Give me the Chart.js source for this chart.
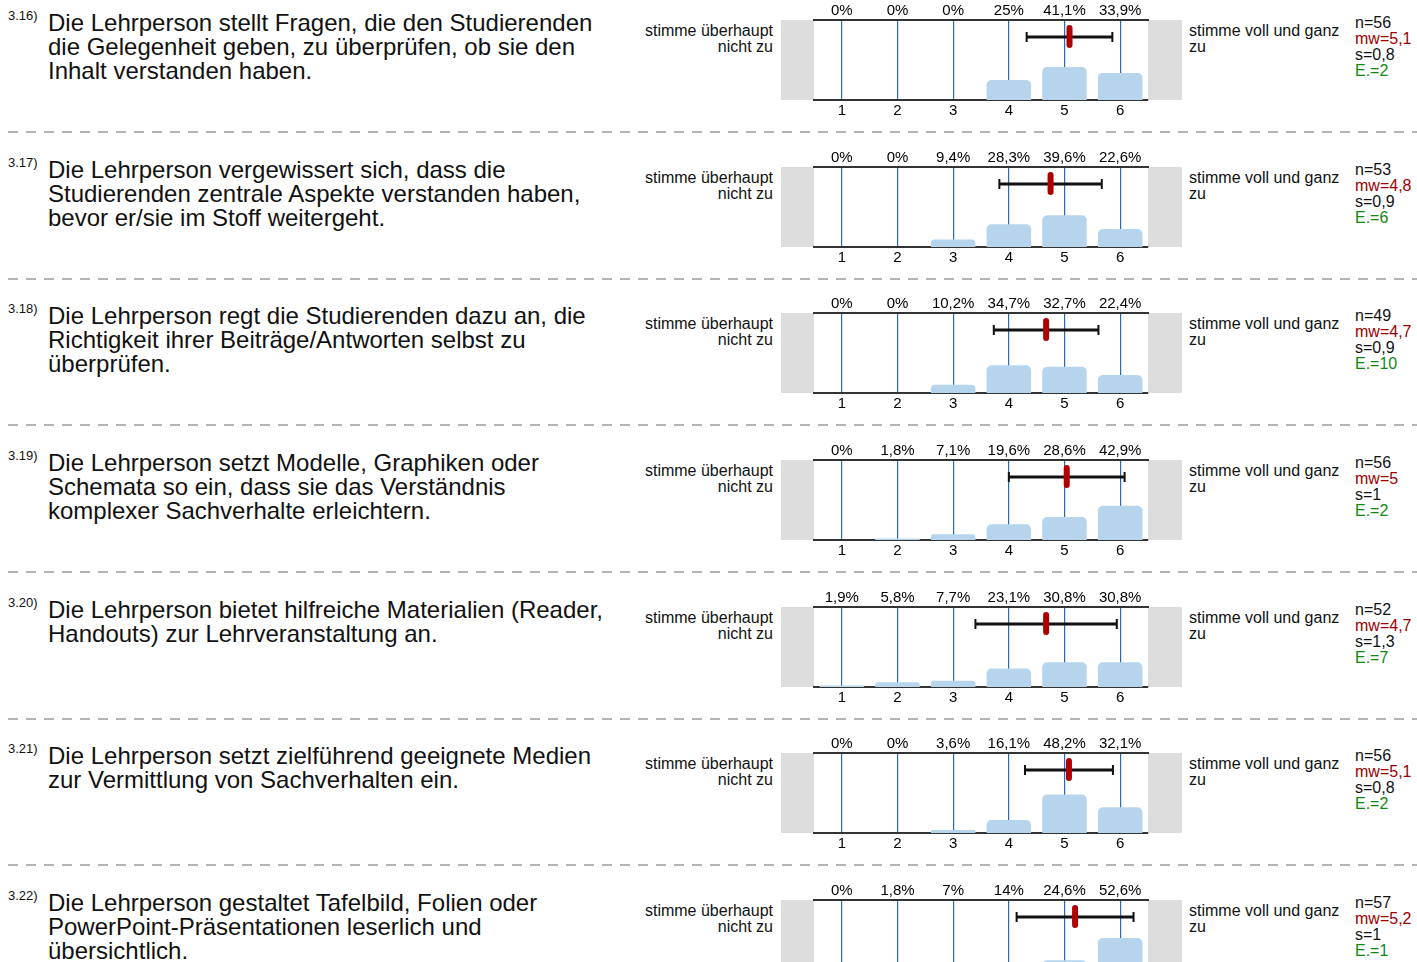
<!DOCTYPE html>
<html lang="de">
<head>
<meta charset="UTF-8">
<title>Lehrevaluation 3.16 - 3.22</title>
<script src="https://cdn.jsdelivr.net/npm/chart.js"></script>
<style>
    body {
        margin: 0;
        background: #fff;
        font-family: "Liberation Sans", Arial, sans-serif;
        color: #111;
        width: 1417px;
        height: 962px;
        overflow: hidden;
        position: relative;
    }
    .row { position: absolute; left: 0; width: 1417px; height: 147px; }
    .num { position: absolute; left: 8px; top: 8px; font-size: 13px; }
    .q { position: absolute; left: 48px; top: 11px; font-size: 24px; line-height: 24px; white-space: nowrap; }
    .lo { position: absolute; left: 573px; width: 200px; top: 23px; font-size: 16px; line-height: 16px; text-align: right; white-space: nowrap; }
    .hi { position: absolute; left: 1189px; top: 23px; font-size: 16px; line-height: 16px; white-space: nowrap; }
    .stats { position: absolute; left: 1355px; top: 15px; font-size: 16px; line-height: 16px; white-space: nowrap; }
    .mw { color: #9b0000; }
    .e { color: #118811; }
    .sep {
        position: absolute; left: 8px; width: 1409px; top: 131px; height: 2px;
        background: repeating-linear-gradient(to right, #b4b4b4 0 10px, transparent 10px 18px);
    }
    .row canvas { position: absolute; left: 781px; top: 0; }
</style>
</head>
<body>
<div id="page"></div>

<script>
// categories of the 6-point scale
const scaleLabels = ['1', '2', '3', '4', '5', '6'];

const itemNumbers = ['3.16)', '3.17)', '3.18)', '3.19)', '3.20)', '3.21)', '3.22)'];

const questions = [
    ['Die Lehrperson stellt Fragen, die den Studierenden', 'die Gelegenheit geben, zu überprüfen, ob sie den', 'Inhalt verstanden haben.'],
    ['Die Lehrperson vergewissert sich, dass die', 'Studierenden zentrale Aspekte verstanden haben,', 'bevor er/sie im Stoff weitergeht.'],
    ['Die Lehrperson regt die Studierenden dazu an, die', 'Richtigkeit ihrer Beiträge/Antworten selbst zu', 'überprüfen.'],
    ['Die Lehrperson setzt Modelle, Graphiken oder', 'Schemata so ein, dass sie das Verständnis', 'komplexer Sachverhalte erleichtern.'],
    ['Die Lehrperson bietet hilfreiche Materialien (Reader,', 'Handouts) zur Lehrveranstaltung an.'],
    ['Die Lehrperson setzt zielführend geeignete Medien', 'zur Vermittlung von Sachverhalten ein.'],
    ['Die Lehrperson gestaltet Tafelbild, Folien oder', 'PowerPoint-Präsentationen leserlich und', 'übersichtlich.']
];

// percent of answers per scale point
const pct316 = [0, 0, 0, 25, 41.1, 33.9];
const pct317 = [0, 0, 9.4, 28.3, 39.6, 22.6];
const pct318 = [0, 0, 10.2, 34.7, 32.7, 22.4];
const pct319 = [0, 1.8, 7.1, 19.6, 28.6, 42.9];
const pct320 = [1.9, 5.8, 7.7, 23.1, 30.8, 30.8];
const pct321 = [0, 0, 3.6, 16.1, 48.2, 32.1];
const pct322 = [0, 1.8, 7, 14, 24.6, 52.6];
const percents = [pct316, pct317, pct318, pct319, pct320, pct321, pct322];

// mean marker and +/- s whisker
const means = [5.09, 4.75, 4.67, 5.04, 4.67, 5.08, 5.19];
const sds = [0.77, 0.92, 0.94, 1.04, 1.27, 0.79, 1.05];

// printed statistics
const nValues = [56, 53, 49, 56, 52, 56, 57];
const mwText = ['5,1', '4,8', '4,7', '5', '4,7', '5,1', '5,2'];
const sText = ['0,8', '0,9', '0,9', '1', '1,3', '0,8', '1'];
const eValues = [2, 6, 10, 2, 7, 2, 1];

const leftPole = 'stimme überhaupt<br>nicht zu';
const rightPole = 'stimme voll und ganz<br>zu';

function fmtPct(v) {
    return String(v).replace('.', ',') + '%';
}

// gray end boxes, mean marker and deviation whisker
const profilePlugin = {
    id: 'profile',
    beforeDraw(chart) {
        const { ctx, chartArea: a } = chart;
        ctx.save();
        ctx.fillStyle = '#dddddd';
        ctx.fillRect(a.left - 33, a.top, 33, a.bottom - a.top);
        ctx.fillRect(a.right, a.top, 34, a.bottom - a.top);
        ctx.restore();
    },
    afterDraw(chart, args, opts) {
        const { ctx, chartArea: a } = chart;
        const xs = chart.scales.x;
        const y = a.top + 17;
        const x0 = xs.getPixelForValue(opts.mean - opts.sd - 1);
        const x1 = xs.getPixelForValue(opts.mean + opts.sd - 1);
        const xm = xs.getPixelForValue(opts.mean - 1);
        ctx.save();
        ctx.strokeStyle = '#111';
        ctx.lineWidth = 3;
        ctx.beginPath();
        ctx.moveTo(x0, y);
        ctx.lineTo(x1, y);
        ctx.stroke();
        ctx.lineWidth = 2;
        ctx.beginPath();
        ctx.moveTo(x0, y - 5);
        ctx.lineTo(x0, y + 5);
        ctx.moveTo(x1, y - 5);
        ctx.lineTo(x1, y + 5);
        ctx.stroke();
        ctx.strokeStyle = '#b00000';
        ctx.lineWidth = 6;
        ctx.lineCap = 'round';
        ctx.beginPath();
        ctx.moveTo(xm, y - 9);
        ctx.lineTo(xm, y + 8);
        ctx.stroke();
        ctx.restore();
    }
};

const page = document.getElementById('page');

questions.forEach(function(lines, i) {
    const row = document.createElement('div');
    row.className = 'row';
    row.style.top = Math.round(i * 146.67) + 'px';
    row.innerHTML =
        '<div class="num">' + itemNumbers[i] + '</div>' +
        '<div class="q">' + lines.join('<br>') + '</div>' +
        '<div class="lo">' + leftPole + '</div>' +
        '<div class="hi">' + rightPole + '</div>' +
        '<div class="stats">n=' + nValues[i] + '<br><span class="mw">mw=' + mwText[i] + '</span><br>s=' + sText[i] +
        '<br><span class="e">E.=' + eValues[i] + '</span></div>' +
        (i < questions.length - 1 ? '<div class="sep"></div>' : '');
    const canvas = document.createElement('canvas');
    canvas.width = 401;
    canvas.height = 120;
    row.appendChild(canvas);
    page.appendChild(row);

    const tickFont = { family: '"Liberation Sans", Arial, sans-serif', size: 15 };

    new Chart(canvas, {
        type: 'bar',
        data: {
            labels: scaleLabels,
            datasets: [{
                data: percents[i],
                backgroundColor: '#b6d5ec',
                borderRadius: { topLeft: 5, topRight: 5 },
                borderSkipped: 'bottom',
                barPercentage: 0.8,
                categoryPercentage: 1
            }]
        },
        options: {
            responsive: false,
            animation: false,
            layout: { padding: { left: 33, right: 34, top: 0, bottom: 0 } },
            plugins: {
                legend: { display: false },
                tooltip: { enabled: false },
                profile: { mean: means[i], sd: sds[i] }
            },
            scales: {
                x: {
                    position: 'bottom',
                    offset: true,
                    z: 1,
                    grid: { offset: false, color: '#2a69b2', lineWidth: 1.2, drawTicks: false },
                    border: { color: '#333', width: 2 },
                    ticks: { color: '#000', font: tickFont, padding: 2, maxRotation: 0, autoSkip: false },
                    afterFit(s) { s.height = 20; }
                },
                x2: {
                    type: 'category',
                    position: 'top',
                    labels: percents[i].map(fmtPct),
                    offset: true,
                    grid: { display: false, drawTicks: false },
                    border: { color: '#333', width: 2 },
                    ticks: { color: '#000', font: tickFont, padding: 0, maxRotation: 0, autoSkip: false },
                    afterFit(s) { s.height = 20; }
                },
                y: { display: false, min: 0, max: 100 }
            }
        },
        plugins: [profilePlugin]
    });
});
</script>
</body>
</html>
